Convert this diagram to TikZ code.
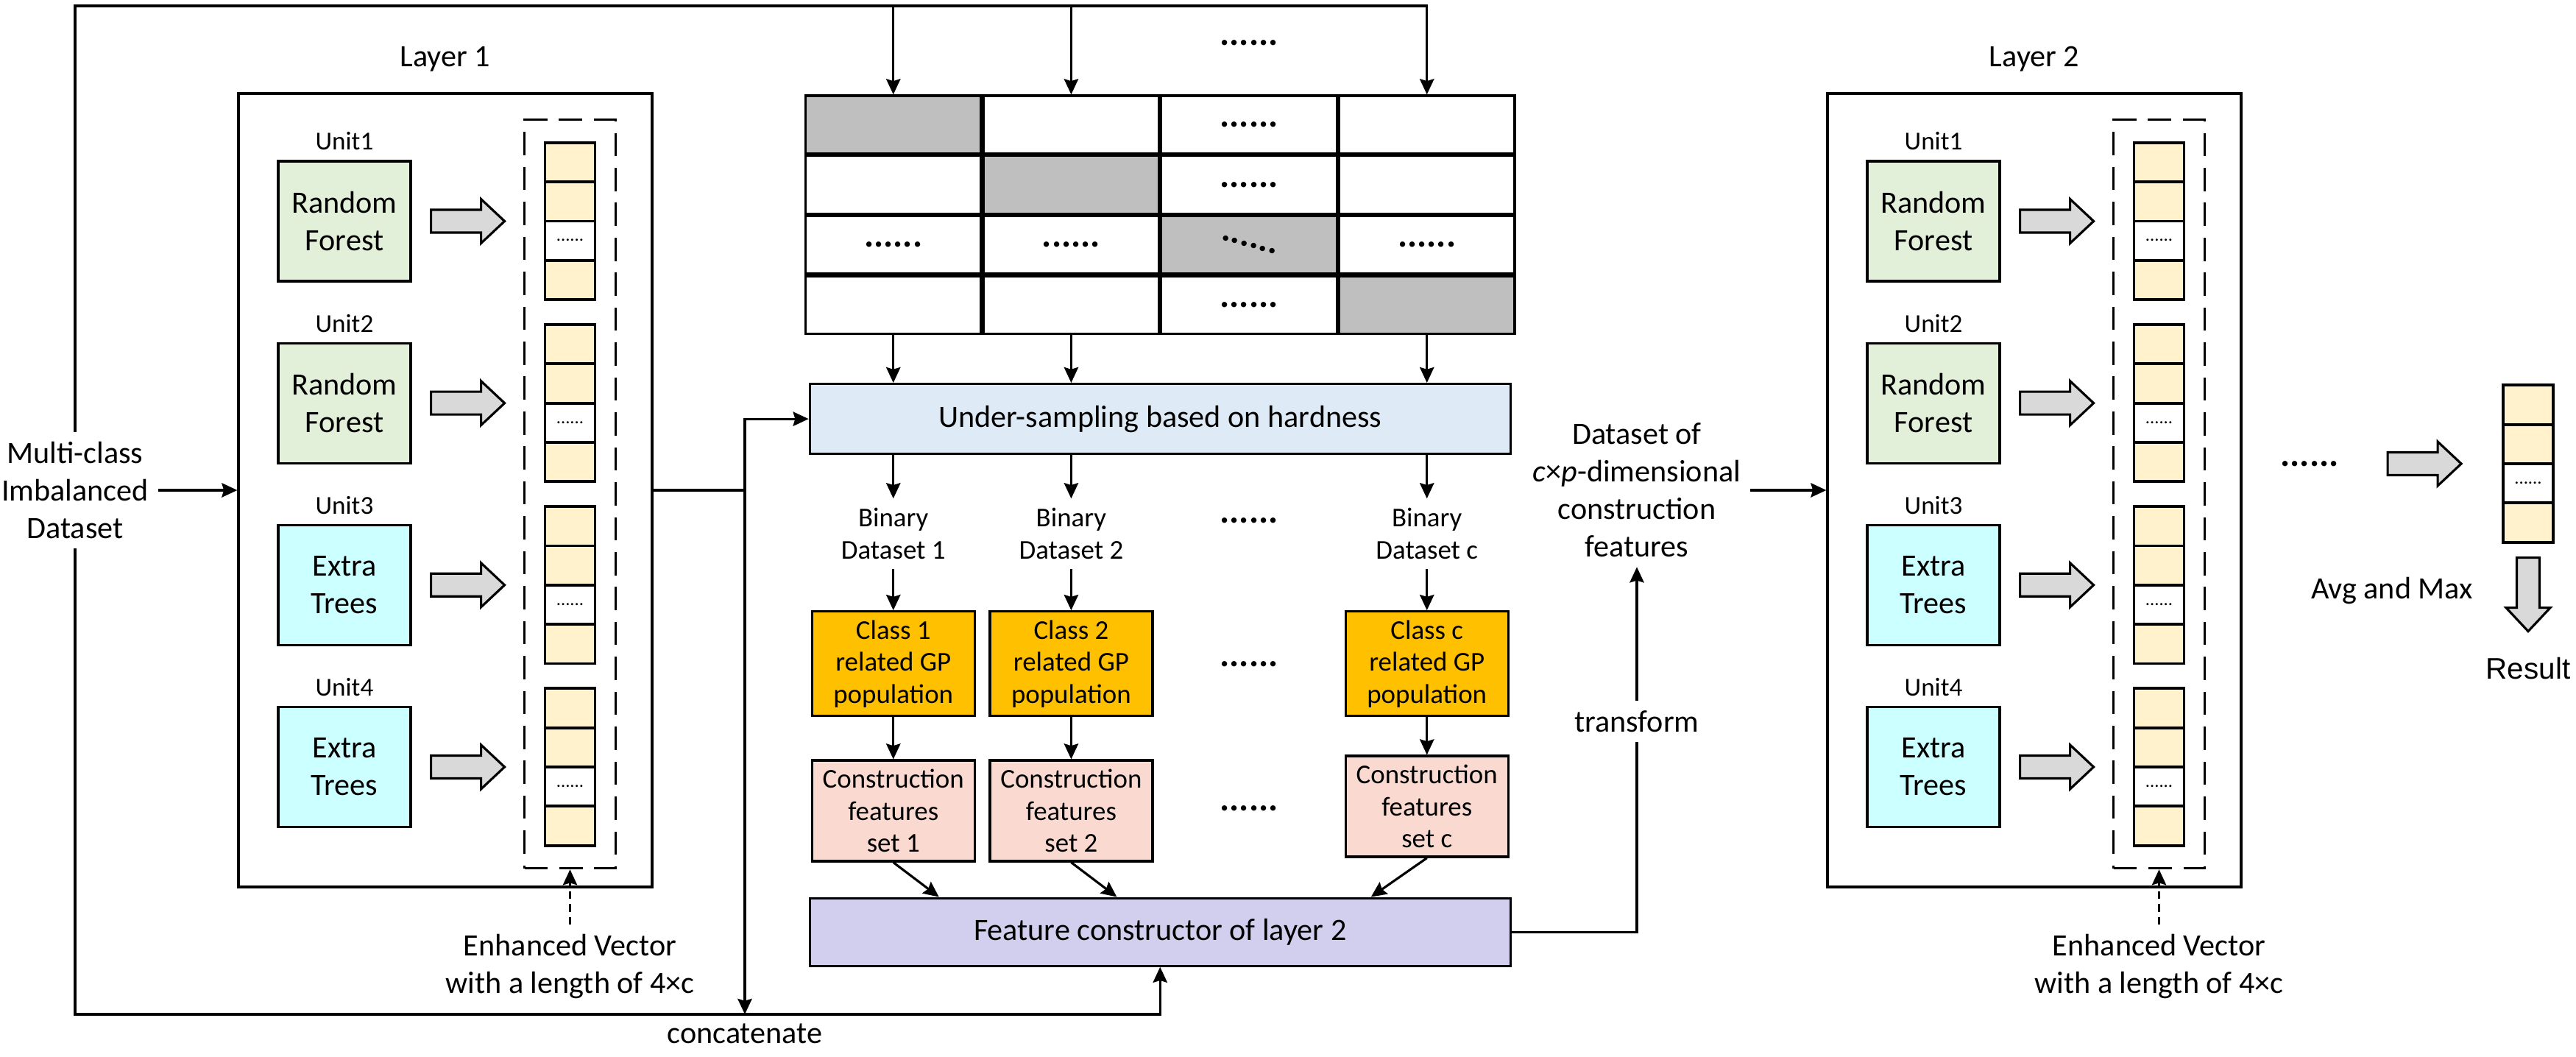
\documentclass[tikz,border=0pt]{standalone}
\usepackage{fontspec}
\setmainfont{Carlito}
\newfontfamily\resultfont{Liberation Sans}
\usepackage{graphicx}
\usetikzlibrary{positioning,fit,shapes,calc}
\usetikzlibrary{arrows.meta}
\definecolor{rfc}{HTML}{E2F0D9}
\definecolor{etc}{HTML}{CCFFFF}
\definecolor{cellc}{HTML}{FFF2CC}
\definecolor{arrowc}{HTML}{D9D9D9}
\definecolor{shadec}{HTML}{BFBFBF}
\definecolor{usc}{HTML}{DEEBF7}
\definecolor{gpc}{HTML}{FFC000}
\definecolor{csc}{HTML}{FADAD0}
\definecolor{fcc}{HTML}{D2CEEE}
\newcommand{\vcells}{\rule{0pt}{0.495cm}\nodepart{two}\rule{0pt}{0.495cm}\nodepart{three}\rule[-0.24cm]{0pt}{0.495cm}......\nodepart{four}\rule{0pt}{0.495cm}}

\begin{document}
\begin{tikzpicture}[
  line width = 0.9pt,
  txt/.style = {
    align = center,
    font = \fontsize{12}{14.5}\selectfont,
  },
  small/.style = {
    align = center,
    font = \fontsize{10.5}{12.4}\selectfont,
  },
  unitlab/.style = {
    font = \fontsize{10}{12}\selectfont,
  },
  dotrow/.style = {
    font = \fontsize{14}{16}\selectfont\bfseries,
  },
  layerbox/.style = {
    draw,
    rectangle,
    minimum width = 5.62cm,
    minimum height = 10.78cm,
  },
  learner/.style = {
    draw,
    rectangle,
    txt,
    minimum width = 1.8cm,
    minimum height = 1.63cm,
  },
  rf/.style = {learner, fill = rfc},
  et/.style = {learner, fill = etc},
  vec/.style = {
    draw,
    line width = 1.1pt,
    rectangle split,
    rectangle split parts = 4,
    rectangle split part fill = {cellc,cellc,white,cellc},
    inner sep = 0pt,
    minimum width = 0.68cm,
    font = \fontsize{7}{8}\selectfont,
  },
  vecfit/.style = {
    draw,
    rectangle,
    dash pattern = on 9pt off 4.5pt,
    inner xsep = 0.26cm,
    inner ysep = 0.29cm,
  },
  tcell/.style = {
    draw,
    rectangle,
    dotrow,
    minimum width = 2.385cm,
    minimum height = 0.785cm,
  },
  widebox/.style = {
    draw,
    rectangle,
    txt,
    minimum width = 9.52cm,
  },
  gpbox/.style = {
    draw,
    rectangle,
    small,
    fill = gpc,
    minimum width = 2.21cm,
    minimum height = 1.37cm,
  },
  csbox/.style = {
    gpbox,
    fill = csc,
  },
  hint/.style = {
    dash pattern = on 3pt off 2pt,
    line width = 0.7pt,
  },
  rarrow/.pic = {
    \draw[fill=arrowc] (0,-0.155) -- (0.68,-0.155) -- (0.68,-0.3)
      -- (1.0,0) -- (0.68,0.3) -- (0.68,0.155) -- (0,0.155) -- cycle;
  },
  >={Stealth[length=6pt,width=5.5pt,inset=0.8pt]},
]

  \useasboundingbox (0,0) rectangle (35,-14.36);

  % input
  \node[txt] (input) at (1.02,-6.66) {Multi-class\\Imbalanced\\Dataset};

  % layer 1
  \node[layerbox] (layer1) at (6.05,-6.66) {};
  \node[txt] (title1) [above=0.15cm of layer1] {Layer 1};

  \node[rf,label={[unitlab]above:Unit1}] (rf11) [below right=0.92cm and 0.54cm of layer1.north west] {Random\\Forest};
  \node[rf,label={[unitlab]above:Unit2}] (rf12) [below=0.81cm of rf11] {Random\\Forest};
  \node[et,label={[unitlab]above:Unit3}] (et13) [below=0.81cm of rf12] {Extra\\Trees};
  \node[et,label={[unitlab]above:Unit4}] (et14) [below=0.81cm of et13] {Extra\\Trees};

  \node[vec] (v11) [right=1.79cm of rf11] {\vcells};
  \node[vec] (v12) [right=1.79cm of rf12] {\vcells};
  \node[vec] (v13) [right=1.79cm of et13] {\vcells};
  \node[vec] (v14) [right=1.79cm of et14] {\vcells};

  \pic at ($(rf11.east)+(0.26,0)$) {rarrow};
  \pic at ($(rf12.east)+(0.26,0)$) {rarrow};
  \pic at ($(et13.east)+(0.26,0)$) {rarrow};
  \pic at ($(et14.east)+(0.26,0)$) {rarrow};

  \node[vecfit,fit=(v11) (v14)] (dash1) {};
  \node[txt] (ev1) [below=0.75cm of dash1] {Enhanced Vector\\with a length of 4×c};
  \draw[->,hint] (ev1.north) -- (dash1.south);

  \path[->] (input.east) edge (input.east -| layer1.west);

  % table
  \node[tcell,fill=shadec] (t11) at (12.1375,-1.6925) {};
  \node[tcell] (t12) [right=0pt of t11] {};
  \node[tcell] (t13) [right=0pt of t12] {......};
  \node[tcell] (t14) [right=0pt of t13] {};

  \node[tcell] (t21) [below=0pt of t11] {};
  \node[tcell,fill=shadec] (t22) [right=0pt of t21] {};
  \node[tcell] (t23) [right=0pt of t22] {......};
  \node[tcell] (t24) [right=0pt of t23] {};

  \node[tcell] (t31) [below=0pt of t21] {......};
  \node[tcell] (t32) [right=0pt of t31] {......};
  \node[tcell,fill=shadec] (t33) [right=0pt of t32] {\rotatebox{-15}{......}};
  \node[tcell] (t34) [right=0pt of t33] {......};

  \node[tcell] (t41) [below=0pt of t31] {};
  \node[tcell] (t42) [right=0pt of t41] {};
  \node[tcell] (t43) [right=0pt of t42] {......};
  \node[tcell,fill=shadec] (t44) [right=0pt of t43] {};

  \coordinate (top) at (0,-0.08);
  \draw[->] (input.north) |- (t14.north |- top) -- (t14.north);
  \draw[->] (t11.north |- top) -- (t11.north);
  \draw[->] (t12.north |- top) -- (t12.north);
  \node[dotrow] (d0) [above=0.53cm of t13] {......};

  % under-sampling
  \node[widebox,fill=usc,minimum height=0.95cm] (us) [below=0.65cm of t42.south east] {Under-sampling based on hardness};
  \draw[->] (t41.south) -- (t41.south |- us.north);
  \draw[->] (t42.south) -- (t42.south |- us.north);
  \draw[->] (t44.south) -- (t44.south |- us.north);

  \node[small] (bd1) at ($(t41 |- us.south)+(0,-1.07)$) {Binary\\Dataset 1};
  \node[small] (bd2) at ($(t42 |- us.south)+(0,-1.07)$) {Binary\\Dataset 2};
  \node[small] (bdc) at ($(t44 |- us.south)+(0,-1.07)$) {Binary\\Dataset c};
  \node[dotrow] (d1) at ($(bd2)!0.5!(bdc)+(0,0.18)$) {......};
  \draw[->] (bd1 |- us.south) -- (bd1.north);
  \draw[->] (bd2 |- us.south) -- (bd2.north);
  \draw[->] (bdc |- us.south) -- (bdc.north);

  \node[gpbox] (gp1) [below=0.56cm of bd1] {Class 1\\related GP\\population};
  \node[gpbox] (gp2) [below=0.56cm of bd2] {Class 2\\related GP\\population};
  \node[gpbox] (gpc) [below=0.56cm of bdc] {Class c\\related GP\\population};
  \node[dotrow] (d2) at ($(gp2)!0.5!(gpc)$) {......};
  \draw[->] (bd1.south) -- (gp1.north);
  \draw[->] (bd2.south) -- (gp2.north);
  \draw[->] (bdc.south) -- (gpc.north);

  \node[csbox] (cs1) [below=0.57cm of gp1] {Construction\\features\\set 1};
  \node[csbox] (cs2) [below=0.57cm of gp2] {Construction\\features\\set 2};
  \node[csbox] (csc) [below=0.51cm of gpc] {Construction\\features\\set c};
  \node[dotrow] (d3) at ($(cs2)!0.5!(csc)$) {......};
  \draw[->] (gp1.south) -- (cs1.north);
  \draw[->] (gp2.south) -- (cs2.north);
  \draw[->] (gpc.south) -- (csc.north);

  \node[widebox,fill=fcc,minimum height=0.92cm] (fc) at ($(us)+(0,-6.97)$) {Feature constructor of layer 2};
  \draw[->] (cs1.south) -- ($(cs1.south |- fc.north)+(0.62,0)$);
  \draw[->] (cs2.south) -- ($(cs2.south |- fc.north)+(0.62,0)$);
  \draw[->] (csc.south) -- ($(csc.south |- fc.north)+(-0.76,0)$);

  \coordinate (bot) at (0,-13.78);
  \draw[->] (input.south) |- (fc.south |- bot) -- (fc.south);

  \coordinate (cat) at (10.12,-13.78);
  \draw[->] (layer1.east) -| (cat |- us.west) -- (us.west);
  \draw[->] (cat |- layer1.east) -- (cat);
  \node[txt] (catlab) [below=0pt of cat] {concatenate};

  % transform
  \node[txt] (ds2) at (22.24,-6.66) {Dataset of\\\textit{c}×\textit{p}-dimensional\\construction\\features};
  \node[txt] (trans) at (22.24,-9.80) {transform};
  \draw (fc.east) -| (trans.south);
  \draw[->] (trans.north) -- (ds2.south);

  % layer 2
  \node[layerbox] (layer2) at (27.64,-6.66) {};
  \node[txt] (title2) [above=0.15cm of layer2] {Layer 2};
  \draw[->] (ds2.east) -- (ds2.east -| layer2.west);

  \node[rf,label={[unitlab]above:Unit1}] (rf21) [below right=0.92cm and 0.54cm of layer2.north west] {Random\\Forest};
  \node[rf,label={[unitlab]above:Unit2}] (rf22) [below=0.81cm of rf21] {Random\\Forest};
  \node[et,label={[unitlab]above:Unit3}] (et23) [below=0.81cm of rf22] {Extra\\Trees};
  \node[et,label={[unitlab]above:Unit4}] (et24) [below=0.81cm of et23] {Extra\\Trees};

  \node[vec] (v21) [right=1.79cm of rf21] {\vcells};
  \node[vec] (v22) [right=1.79cm of rf22] {\vcells};
  \node[vec] (v23) [right=1.79cm of et23] {\vcells};
  \node[vec] (v24) [right=1.79cm of et24] {\vcells};

  \pic at ($(rf21.east)+(0.26,0)$) {rarrow};
  \pic at ($(rf22.east)+(0.26,0)$) {rarrow};
  \pic at ($(et23.east)+(0.26,0)$) {rarrow};
  \pic at ($(et24.east)+(0.26,0)$) {rarrow};

  \node[vecfit,fit=(v21) (v24)] (dash2) {};
  \node[txt] (ev2) [below=0.75cm of dash2] {Enhanced Vector\\with a length of 4×c};
  \draw[->,hint] (ev2.north) -- (dash2.south);

  % output
  \node[vec] (vout) at (34.35,-6.30) {\vcells};
  \node[dotrow] (d5) at ($(vout.west)+(-2.61,0)$) {......};
  \pic at ($(vout.west)+(-1.55,0)$) {rarrow};
  \pic[rotate=-90] at ($(vout.south)+(0,-0.19)$) {rarrow};
  \node[txt] (avg) at ($(vout.south)+(-1.85,-0.64)$) {Avg and Max};
  \node[txt,font=\resultfont\fontsize{11.5}{14}\selectfont] (res) at ($(vout.south)+(0,-1.69)$) {Result};

\end{tikzpicture}
\end{document}
